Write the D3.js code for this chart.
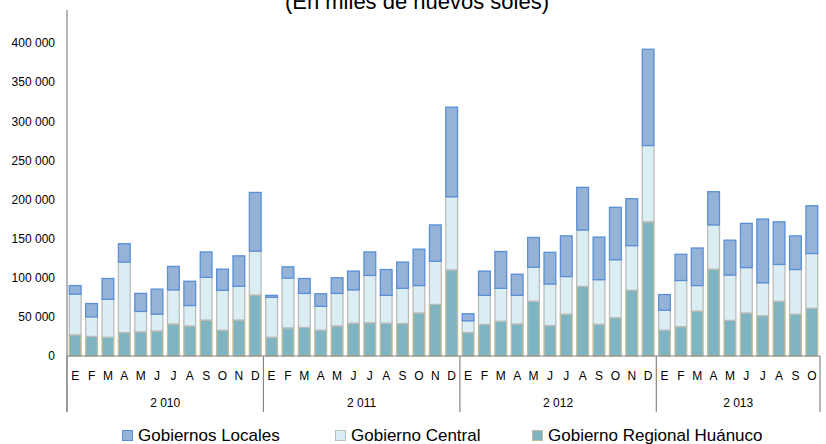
<!DOCTYPE html>
<html><head><meta charset="utf-8">
<script src="https://cdn.jsdelivr.net/npm/d3@7"></script>
<style>html,body{margin:0;padding:0;background:#fff}svg{display:block}</style>
</head><body>
<svg id="c" width="826" height="444"></svg>
<script>
const years = ["2 010", "2 011", "2 012", "2 013"];
const monthsPerYear = [12, 12, 12, 10];
const monthLabels = ["E","F","M","A","M","J","J","A","S","O","N","D"];
const seriesNames = ["Gobierno Regional Huánuco", "Gobierno Central", "Gobiernos Locales"];
const regional = [
  27000,25000,24000,30000,31000,32000,41000,38500,46000,33000,46000,78000,
  24000,36000,36500,33000,38500,42000,42500,42000,41500,55000,66000,110000,
  30000,40500,44500,41000,70000,39000,53500,89000,40500,49000,84000,171500,
  33000,37500,57500,111000,45500,55000,51500,70000,53500,61000];
const central = [
  52000,25000,48500,90000,26000,21500,43500,26000,54500,51000,43000,56000,
  51000,63500,43500,30500,41500,42500,60500,35500,45000,35000,55000,93500,
  15000,37000,42000,36500,43500,53000,48000,72000,57000,74000,57000,97500,
  25500,59000,32500,56500,58000,58000,42000,47000,57000,70000];
const locales = [
  11000,17000,26500,23500,23000,32000,30000,31000,32500,27000,39000,75000,
  2500,14500,19000,16000,20000,24000,30000,33000,33500,46500,46500,114500,
  9000,31000,47000,27000,38000,40500,52000,54500,54500,67000,60000,123000,
  20000,33500,48000,42500,44500,56500,81500,54500,43000,61000];
const yTicks = [0,50000,100000,150000,200000,250000,300000,350000,400000];

const fills = {"Gobierno Regional Huánuco":"#7fb4c2","Gobierno Central":"#dbeef4","Gobiernos Locales":"#95b3d7"};
const strokes = {"Gobierno Regional Huánuco":"#c4bd97","Gobierno Central":"#bcbcbc","Gobiernos Locales":"#5a8fd8"};

const rows = [];
let idx = 0;
monthsPerYear.forEach((n, yi) => {
  for (let m = 0; m < n; m++) {
    rows.push({i: idx, year: yi, month: monthLabels[m],
      "Gobierno Regional Huánuco": regional[idx],
      "Gobierno Central": central[idx],
      "Gobiernos Locales": locales[idx]});
    idx++;
  }
});

const svg = d3.select("#c");
const font = "'Liberation Sans', Arial, sans-serif";
const x0 = 67, x1 = 820, yBase = 356, yTop = 43;
const x = d3.scaleBand().domain(rows.map(d => d.i)).range([x0, x1]).paddingInner(0.22).paddingOuter(0.11);
const y = d3.scaleLinear().domain([0, 400000]).range([yBase, yTop]);

const stack = d3.stack().keys(seriesNames)(rows);
const g = svg.append("g");
g.selectAll("g.s").data(stack).join("g").attr("class","s")
  .attr("fill", d => fills[d.key]).attr("stroke", d => strokes[d.key]).attr("stroke-width", 1.3)
  .selectAll("rect").data(d => d).join("rect")
  .attr("x", d => x(d.data.i) + 0.5)
  .attr("width", x.bandwidth() - 1)
  .attr("y", d => y(d[1]))
  .attr("height", d => y(d[0]) - y(d[1]));

// y axis
const loc = d3.formatLocale({decimal: ",", thousands: " ", grouping: [3], currency: ["", ""]});
const fmt = loc.format(",d");
const yAxis = d3.axisLeft(y).tickValues(yTicks).tickFormat(fmt).tickSize(0).tickPadding(12);
const ya = svg.append("g").attr("transform", `translate(${x0},0)`).call(yAxis);
ya.select(".domain").remove();
ya.selectAll("text").attr("font-family", font).attr("font-size", 12).attr("fill", "#000");
svg.append("line").attr("x1", x0).attr("x2", x0).attr("y1", 10).attr("y2", 412).attr("stroke", "#868686").attr("stroke-width", 1.2);

// x axis
svg.append("line").attr("x1", x0).attr("x2", x1).attr("y1", yBase).attr("y2", yBase).attr("stroke", "#868686").attr("stroke-width", 1.2);
const xAxis = d3.axisBottom(x).tickFormat(i => rows[i].month).tickSize(0).tickPadding(0);
const xa = svg.append("g").attr("transform", `translate(0,${yBase})`).call(xAxis);
xa.select(".domain").remove();
xa.selectAll("text").attr("font-family", font).attr("font-size", 12).attr("fill", "#000").attr("dy", null).attr("y", 23.5);

// year groups
const yearStart = [];
let s = 0;
monthsPerYear.forEach(n => { yearStart.push(s); s += n; });
const step = x.step();
const bounds = yearStart.map((v, k) => k === 0 ? x0 : x(v) - x.paddingInner() * step / 2);
bounds.push(x1);
bounds.forEach(bx => {
  svg.append("line").attr("x1", bx).attr("x2", bx).attr("y1", yBase).attr("y2", 412).attr("stroke", "#868686").attr("stroke-width", 1.2);
});
years.forEach((yl, k) => {
  svg.append("text").attr("x", (bounds[k] + bounds[k+1]) / 2).attr("y", 407)
    .attr("text-anchor", "middle").attr("font-family", font).attr("font-size", 12).text(yl);
});

// title
svg.append("text").attr("x", 417).attr("y", 8.5).attr("text-anchor", "middle")
  .attr("font-family", "Arial, 'Liberation Sans', sans-serif").attr("font-size", 22).text("(En miles de nuevos soles)");

// legend
const legendItems = [
  {name: "Gobiernos Locales", x: 122},
  {name: "Gobierno Central", x: 335},
  {name: "Gobierno Regional Huánuco", x: 532}
];
legendItems.forEach(it => {
  svg.append("rect").attr("x", it.x + 0.5).attr("y", 430.5).attr("width", 10).attr("height", 10)
    .attr("fill", fills[it.name]).attr("stroke", strokes[it.name]).attr("stroke-width", 1);
  svg.append("text").attr("x", it.x + 16).attr("y", 440.5).attr("font-family", font).attr("font-size", 17).text(it.name);
});
</script>
</body></html>
